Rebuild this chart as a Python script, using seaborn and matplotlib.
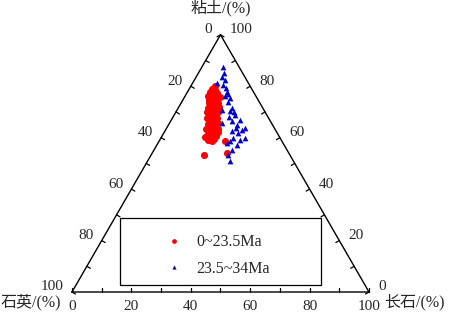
import numpy as np
import pandas as pd
import seaborn as sns
import matplotlib.pyplot as plt
from matplotlib.lines import Line2D
from matplotlib.patches import Rectangle

# 0~23.5Ma samples: clay (粘土) and feldspar (长石) in %, quartz (石英) is the rest
young_clay = [79.0, 78.6, 77.8, 77.4, 76.7, 76.3, 75.9, 75.1, 74.3, 73.5, 73.5, 72.8,
              72.0, 71.6, 70.8, 70.4, 70.0, 69.3, 68.9, 68.1, 67.7, 66.9, 66.5, 65.8,
              65.4, 64.6, 64.2, 63.4, 63.0, 62.6, 62.3, 61.5, 61.1, 60.7, 59.9, 59.5,
              58.8, 58.8, 53.3, 54.1, 77.8, 74.7, 67.7, 71.6, 70.0, 72.0, 65.0, 61.9, 59.1,
              80.0, 76.0, 69.0, 63.5, 60.2]
young_feld = [7.6, 8.8, 7.6, 10.1, 9.1, 7.7, 10.5, 9.2, 10.6, 9.4, 12.4, 10.7,
              12.5, 10.0, 11.4, 12.9, 14.2, 11.5, 13.0, 14.4, 11.6, 13.3, 14.9, 16.3,
              13.1, 14.8, 16.4, 13.4, 15.0, 16.5, 18.0, 15.0, 16.6, 18.1, 16.5, 18.0,
              17.7, 22.1, 17.7, 25.1, 8.6, 8.7, 15.0, 11.7, 10.5, 13.5, 14.0, 17.2, 16.3,
              8.2, 11.8, 12.6, 17.4, 14.6]

# 23.5~34Ma samples
old_clay = [87.5, 83.7, 82.5, 81.3, 80.5, 77.8, 77.0, 76.3, 75.5, 73.9, 70.8, 71.6,
            70.4, 68.9, 65.8, 66.5, 65.0, 63.0, 63.8, 62.6, 61.9, 59.9, 59.9, 58.8,
            57.2, 55.3, 53.3, 51.0, 58.0, 66.9, 63.8, 79.4, 85.2, 68.1, 59.1, 70.0]
old_feld = [7.1, 8.7, 10.3, 8.2, 10.6, 13.3, 14.0, 13.4, 15.5, 15.6, 15.1, 18.1,
            18.0, 20.5, 17.6, 20.6, 23.1, 25.7, 26.3, 22.6, 25.0, 24.3, 28.3, 23.8,
            27.0, 26.3, 25.9, 27.7, 23.2, 23.2, 23.3, 12.2, 8.6, 18.9, 27.1, 19.5]

tick_vals = list(range(0, 101, 10))
label_vals = [0, 20, 40, 60, 80, 100]
H = np.sqrt(3) / 2


def tern(f, c):
    # feldspar, clay (%) -> cartesian in a unit triangle
    f = np.asarray(f) / 100.0
    c = np.asarray(c) / 100.0
    return f + c / 2, c * H


sns.set_style('white')
plt.rcParams['font.family'] = ['Liberation Serif', 'Noto Sans CJK SC']

fig = plt.figure(figsize=(4.49, 3.14), dpi=100)
ax = fig.add_axes([0, 0, 1, 1])
ax.axis('off')

rows = []
for grp, cl, fe in [('0~23.5Ma', young_clay, young_feld), ('23.5~34Ma', old_clay, old_feld)]:
    x, y = tern(fe, cl)
    rows.append(pd.DataFrame({'x': x, 'y': y, 'group': grp}))
df = pd.concat(rows, ignore_index=True)

sns.scatterplot(data=df[df.group == '0~23.5Ma'], x='x', y='y', color='#ff0000',
                marker='o', s=26, linewidth=0, ax=ax, legend=False, zorder=3)
sns.scatterplot(data=df[df.group == '23.5~34Ma'], x='x', y='y', color='#0000cc',
                marker='^', s=17, linewidth=0, ax=ax, legend=False, zorder=4)

# triangle frame
ax.plot([0, 1, 0.5, 0], [0, 0, H, 0], color='black', lw=1.0, zorder=2)

tl = 4 / 297.0
txt = dict(fontsize=11, textcoords='offset pixels')
for v in tick_vals:
    # bottom: feldspar
    bx, by = tern(v, 0)
    ax.plot([bx, bx], [by, by + tl], color='black', lw=0.9)
    # left: quartz (0 at top)
    lx, ly = tern(0, 100 - v)
    ax.plot([lx, lx + tl * H], [ly, ly - tl * 0.5], color='black', lw=0.9)
    # right: clay
    rx, ry = tern(100 - v, v)
    ax.plot([rx, rx - tl * H], [ry, ry - tl * 0.5], color='black', lw=0.9)
    if v in label_vals:
        ax.annotate(str(v), (bx, by), xytext=(0, -8), ha='center', va='top', **txt)
        ax.annotate(str(v), (lx, ly), xytext=(-8, 5), ha='right', va='center', **txt)
        ax.annotate(str(v), (rx, ry), xytext=(9, 5), ha='left', va='center', **txt)

# axis titles
ax.annotate('粘土/(%)', tern(0, 100), xytext=(0, 27), ha='center', va='center',
            textcoords='offset pixels', fontsize=11.5)
ax.annotate('石英/(%)', tern(0, 0), xytext=(-71, -10), ha='left', va='center',
            textcoords='offset pixels', fontsize=11.5)
ax.annotate('长石/(%)', tern(100, 0), xytext=(15, -10), ha='left', va='center',
            textcoords='offset pixels', fontsize=11.5)

ax.set_xlim(-72 / 297.0, 377 / 297.0)
ax.set_ylim(-22 / 297.0, 292 / 297.0)

# legend
handles = [Line2D([], [], ls='none', marker='o', color='#ff0000', markersize=3.4, markeredgewidth=0),
           Line2D([], [], ls='none', marker='^', color='#0000cc', markersize=3.0, markeredgewidth=0)]
ax.legend(handles, ['0~23.5Ma', '23.5~34Ma'], loc='upper left', frameon=False,
          bbox_to_anchor=(160 / 449, 1 - 228 / 314), bbox_transform=fig.transFigure,
          borderaxespad=0, handlelength=0.9, handletextpad=1.0, labelspacing=0.65,
          fontsize=11.5)
ax.add_patch(Rectangle((120 / 449, 29 / 314), 201 / 449, 67 / 314, transform=fig.transFigure,
                       fill=False, lw=0.9, edgecolor='black', clip_on=False))

fig.savefig('out.png', dpi=100)
